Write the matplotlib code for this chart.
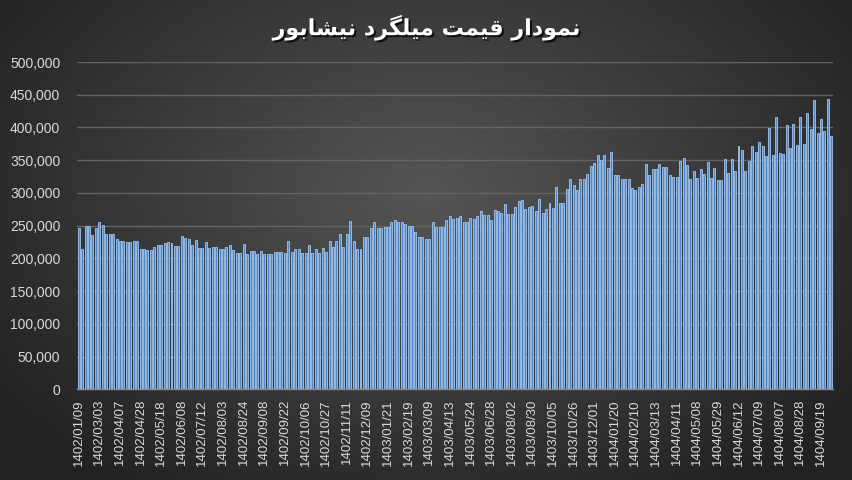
import numpy as np
import matplotlib
matplotlib.use("Agg")
import matplotlib.pyplot as plt
import matplotlib.patheffects as pe
from matplotlib.ticker import FuncFormatter, MultipleLocator

# ---------------- data ----------------
tick_labels = [
    "1402/01/09", "1402/03/03", "1402/04/07", "1402/04/28", "1402/05/18", "1402/06/08",
    "1402/07/12", "1402/08/03", "1402/08/24", "1402/09/08", "1402/09/22", "1402/10/06",
    "1402/10/27", "1402/11/11", "1402/12/09", "1403/01/21", "1403/02/19", "1403/03/09",
    "1403/04/13", "1403/05/24", "1403/06/28", "1403/08/02", "1403/08/30", "1403/10/05",
    "1403/10/26", "1403/12/01", "1404/01/20", "1404/02/10", "1404/03/13", "1404/04/11",
    "1404/05/08", "1404/05/29", "1404/06/12", "1404/07/09", "1404/08/07", "1404/08/28",
    "1404/09/19",
]
label_every = 6

prices_1 = [
    247, 214, 250, 250, 236, 246, 255, 251, 238, 238, 237, 230, 227, 226, 225, 225,
    227, 227, 214, 214, 213, 213, 218, 221, 221, 223, 225, 223, 219, 219, 234, 231,
    230, 221, 228, 216, 216, 225, 216, 218, 218, 214, 214, 218,
]
prices_2 = [
    221, 213, 208, 208, 222, 206, 211, 211, 206, 211, 206, 206, 206, 209, 209, 209,
    208, 226, 209, 214, 214, 208, 208, 221, 208, 214, 208, 216, 210, 227, 218, 227,
    237, 218, 237, 257, 226, 214, 214, 232, 233, 246, 256, 247, 246,
]
prices_3 = [
    248, 248, 255, 258, 255, 255, 252, 250, 250, 241, 233, 233, 230, 230, 256, 248,
    248, 248, 258, 265, 260, 261, 265, 255, 255, 261, 260, 264, 273, 266, 266, 258,
    274, 272, 270, 283, 268, 268, 279, 288, 289, 275, 279, 280,
]
prices_4 = [
    272, 290, 269, 276, 285, 277, 309, 285, 285, 306, 321, 312, 304, 321, 321, 329,
    341, 346, 358, 351, 358, 338, 363, 328, 328, 321, 321, 321, 307, 305, 309, 314,
    344, 328, 337, 337, 344, 340, 340, 327, 324, 324, 349, 353,
]
prices_5 = [
    343, 321, 334, 323, 337, 329, 347, 323, 338, 320, 320, 352, 330, 352, 334, 372,
    365, 333, 348, 371, 363, 378, 372, 357, 399, 358, 416, 361, 359, 404, 368, 405,
    373, 416, 375, 422, 397, 442, 391, 413, 395, 444, 387,
]
prices_k = prices_1 + prices_2 + prices_3 + prices_4 + prices_5
values = np.array(prices_k, dtype=float) * 1000

title_logical = "نمودار قیمت میلگرد نیشابور"

# ---------------- manual Arabic shaping ----------------
FORMS = {  # isolated, final, initial, medial
    "ن": ("\uFEE5", "\uFEE6", "\uFEE7", "\uFEE8"),
    "م": ("\uFEE1", "\uFEE2", "\uFEE3", "\uFEE4"),
    "و": ("\uFEED", "\uFEEE", None, None),
    "د": ("\uFEA9", "\uFEAA", None, None),
    "ا": ("\uFE8D", "\uFE8E", None, None),
    "ر": ("\uFEAD", "\uFEAE", None, None),
    "ق": ("\uFED5", "\uFED6", "\uFED7", "\uFED8"),
    "ی": ("\uFBFC", "\uFBFD", "\uFBFE", "\uFBFF"),
    "ت": ("\uFE95", "\uFE96", "\uFE97", "\uFE98"),
    "ل": ("\uFEDD", "\uFEDE", "\uFEDF", "\uFEE0"),
    "گ": ("\uFB92", "\uFB93", "\uFB94", "\uFB95"),
    "ش": ("\uFEB5", "\uFEB6", "\uFEB7", "\uFEB8"),
    "ب": ("\uFE8F", "\uFE90", "\uFE91", "\uFE92"),
}


def shape_word(w):
    out = []
    for i, ch in enumerate(w):
        f = FORMS.get(ch)
        if f is None:
            out.append(ch)
            continue
        prev = w[i - 1] if i > 0 else None
        nxt = w[i + 1] if i + 1 < len(w) else None
        join_prev = prev is not None and prev in FORMS and FORMS[prev][2] is not None
        join_next = nxt is not None and nxt in FORMS and f[2] is not None
        if join_prev and join_next:
            out.append(f[3])
        elif join_prev:
            out.append(f[1])
        elif join_next:
            out.append(f[2])
        else:
            out.append(f[0])
    return "".join(out)


def shape_rtl(text):
    words = text.split(" ")
    shaped = " ".join(shape_word(w) for w in words)
    return shaped[::-1]


# ---------------- figure ----------------
W, H = 853, 480
fig = plt.figure(figsize=(W / 100, H / 100), dpi=100)

# radial gradient background
bg = fig.add_axes([0, 0, 1, 1], zorder=0)
yy, xx = np.mgrid[0:H, 0:W]
cx, cy = W * 0.5, H * 0.40
r = np.sqrt(((xx - cx) / (W * 0.62)) ** 2 + ((yy - cy) / (H * 0.75)) ** 2)
r = np.clip(r, 0, 1)
c_in = np.array([0x55, 0x55, 0x55]) / 255
c_out = np.array([0x22, 0x22, 0x22]) / 255
img = c_in[None, None, :] * (1 - r[..., None]) + c_out[None, None, :] * r[..., None]
bg.imshow(img, aspect="auto", extent=[0, 1, 0, 1], origin="upper")
bg.axis("off")

ax = fig.add_axes([77 / W, 1 - 389.3 / H, (833 - 77) / W, (389.3 - 62) / H], zorder=1)
ax.patch.set_alpha(0)

x = np.arange(len(values))
ax.bar(x, values, width=0.58, color="#5088c8", edgecolor="#a4c6ee",
       linewidth=0.6, zorder=3)

ax.set_xlim(-0.5, len(values) - 0.5)
ax.set_ylim(0, 500000)
ax.yaxis.set_major_locator(MultipleLocator(50000))
ax.yaxis.set_major_formatter(FuncFormatter(lambda v, p: f"{int(v):,}"))
ax.grid(axis="y", color="#646464", linewidth=1.0, zorder=1)
ax.set_axisbelow(True)

tick_pos = x[::label_every][:len(tick_labels)]
ax.set_xticks(tick_pos)
ax.set_xticklabels(tick_labels, rotation=90, fontsize=9.5,
                   color="#d9d9d9", family="Liberation Sans")
for lab in ax.get_yticklabels():
    lab.set_fontfamily("Liberation Sans")
ax.tick_params(axis="y", length=0, pad=12, labelsize=10, labelcolor="#d9d9d9")
ax.tick_params(axis="x", length=0, pad=7)

for s in ["top", "right", "left"]:
    ax.spines[s].set_visible(False)
ax.spines["bottom"].set_color("#8a8a8a")
ax.spines["bottom"].set_linewidth(1.0)
ax.spines["bottom"].set_zorder(4)

fig.text(0.5, 1 - 28 / H, shape_rtl(title_logical), ha="center", va="center",
         fontsize=16, fontweight="bold", color="white", family="DejaVu Sans",
         path_effects=[pe.withSimplePatchShadow(offset=(1.5, -1.5),
                                                shadow_rgbFace="black", alpha=0.7)])

fig.savefig("out.png", dpi=100)
